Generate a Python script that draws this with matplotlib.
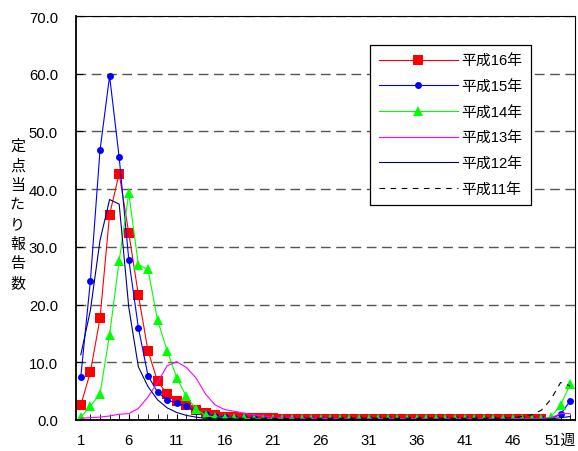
import numpy as np
import matplotlib
matplotlib.use("Agg")
import matplotlib.pyplot as plt

plt.rcParams['font.family'] = ['Liberation Sans', 'Noto Sans CJK JP', 'DejaVu Sans']

weeks = list(range(1, 53))
nan = np.nan

h16 = [2.6, 8.3, 17.6, 35.6, 42.7, 32.4, 21.7, 12.0, 6.7, 4.5, 3.3, 2.6, 1.7, 1.2,
       0.8, 0.6, 0.5, 0.4, 0.3, 0.3, 0.3, 0.2, 0.2, 0.2, 0.2, 0.2, 0.2, 0.2, 0.2, 0.2,
       0.2, 0.2, 0.2, 0.2, 0.2, 0.2, 0.2, 0.2, 0.2, 0.2, 0.2, 0.2, 0.2, 0.2, 0.2, 0.2,
       0.2, 0.2, 0.2, nan, nan, nan]
h15 = [7.5, 24.1, 46.7, 59.6, 45.5, 27.8, 16.0, 7.7, 4.8, 3.5, 2.9, 2.4, 1.5, 1.0,
       0.7, 0.5, 0.4, 0.3, 0.3, 0.2, 0.2, 0.1, 0.1, 0.1, 0.1, 0.1, 0.1, 0.1, 0.1, 0.1,
       0.1, 0.1, 0.1, 0.1, 0.1, 0.1, 0.1, 0.1, 0.1, 0.1, 0.1, 0.1, 0.1, 0.1, 0.1, 0.1,
       0.1, 0.1, 0.1, 0.2, 1.0, 3.3]
h14 = [0.5, 2.4, 4.5, 14.8, 27.6, 39.3, 26.9, 26.1, 17.3, 12.0, 7.3, 4.1, 1.9, 0.8,
       0.5, 0.4, 0.3, 0.3, 0.2, 0.2, 0.2, 0.2, 0.2, 0.2, 0.2, 0.2, 0.2, 0.2, 0.2, 0.2,
       0.2, 0.2, 0.2, 0.2, 0.2, 0.2, 0.2, 0.2, 0.2, 0.2, 0.2, 0.2, 0.2, 0.2, 0.2, 0.2,
       0.2, 0.2, 0.2, 0.5, 2.6, 6.2]
h13 = [0.3, 0.4, 0.5, 0.7, 1.0, 1.1, 2.0, 4.0, 6.5, 9.4, 10.1, 9.1, 7.3, 4.5,
       2.6, 1.8, 1.5, 1.2, 0.9, 0.7, 0.5, 0.4, 0.4, 0.3, 0.3, 0.3, 0.3, 0.2, 0.2, 0.2,
       0.2, 0.2, 0.2, 0.2, 0.2, 0.2, 0.2, 0.2, 0.2, 0.2, 0.2, 0.2, 0.2, 0.2, 0.2, 0.2,
       0.2, 0.2, 0.2, 0.4, 1.1, 1.1]
h12 = [11.3, 19.0, 31.1, 38.2, 37.4, 19.5, 9.2, 5.8, 3.5, 2.1, 1.3, 0.8, 0.5, 0.3,
       0.2, 0.2, 0.2, 0.1, 0.1, 0.1, 0.1, 0.1, 0.1, 0.1, 0.1, 0.1, 0.1, 0.1, 0.1, 0.1,
       0.1, 0.1, 0.1, 0.1, 0.1, 0.1, 0.1, 0.1, 0.1, 0.1, 0.1, 0.1, 0.1, 0.1, 0.1, 0.1,
       0.1, 0.1, 0.1, 0.2, 0.4, 0.6]
h11 = [nan] * 13 + [0.4, 0.4, 0.3, 0.3, 0.3, 0.3, 0.3, 0.3, 0.3, 0.3, 0.3, 0.3, 0.3,
       0.3, 0.3, 0.3, 0.3, 0.3, 0.3, 0.3, 0.3, 0.3, 0.3, 0.3, 0.3, 0.3, 0.3, 0.3, 0.3,
       0.3, 0.3, 0.3, 0.4, 0.6, 0.9, 1.7, 3.6, 6.5, 5.9]

labels = ['平成16年', '平成15年', '平成14年', '平成13年', '平成12年', '平成11年']
xtick_vals = [1, 6, 11, 16, 21, 26, 31, 36, 41, 46, 51]
xtick_labels = ['1', '6', '11', '16', '21', '26', '31', '36', '41', '46', '51週']
ytick_vals = [0, 10, 20, 30, 40, 50, 60, 70]
ylabel = '定点当たり報告数'

W, H = 578, 452
fig = plt.figure(figsize=(W / 100, H / 100), dpi=100)
ax = fig.add_axes([76 / W, 31 / H, (575 - 76) / W, (421 - 17) / H])

lw = 0.8
ax.plot(weeks, h16, color='#FF0000', lw=lw, marker='s', ms=6.5, mew=0, label=labels[0])
ax.plot(weeks, h15, color='#0000FF', lw=lw, marker='o', ms=5, mew=0, label=labels[1])
ax.plot(weeks, h14, color='#00FF00', lw=lw, marker='^', ms=6.5, mew=0, label=labels[2])
ax.plot(weeks, h13, color='#FF00FF', lw=lw, label=labels[3])
ax.plot(weeks, h12, color='#000080', lw=lw, label=labels[4])
ax.plot(weeks, h11, color='black', lw=lw, ls=(0, (5, 5)), label=labels[5])

ax.set_xlim(0.5, 52.5)
ax.set_ylim(0, 70)
ax.set_yticks(ytick_vals)
ax.set_yticklabels([f'{v:.1f}' for v in ytick_vals])
ax.set_xticks(xtick_vals)
ax.set_xticklabels(xtick_labels)
ax.set_xticks(weeks, minor=True)
ax.tick_params(axis='both', which='both', direction='in', labelsize=10.7, colors='black')
ax.tick_params(axis='x', which='major', length=4, pad=9.5)
ax.tick_params(axis='x', which='minor', length=4)
ax.tick_params(axis='y', which='major', length=5, pad=13)

ax.yaxis.grid(True, color='#555555', lw=1.0, ls=(0, (7, 4)))
ax.set_axisbelow(True)
for s in ['left', 'bottom']:
    ax.spines[s].set_linewidth(1.3)
for s in ['top', 'right']:
    ax.spines[s].set_linewidth(0.8)
for s in ax.spines.values():
    s.set_color('black')

fig.text(17.5 / W, 1 - 215 / H, '\n'.join(ylabel), ha='center', va='center',
         fontsize=10.8, linespacing=1.5, family=['Noto Sans CJK JP'])

leg = ax.legend(loc='upper left', bbox_to_anchor=(370 / W, 1 - 46 / H),
                bbox_transform=fig.transFigure, borderaxespad=0, numpoints=1,
                fontsize=10.7, handlelength=5.3, handletextpad=0.25,
                borderpad=0.6, labelspacing=0.78, fancybox=False, framealpha=1)
leg.get_frame().set_edgecolor('black')
leg.get_frame().set_linewidth(0.9)

fig.savefig('out.png', dpi=100)
